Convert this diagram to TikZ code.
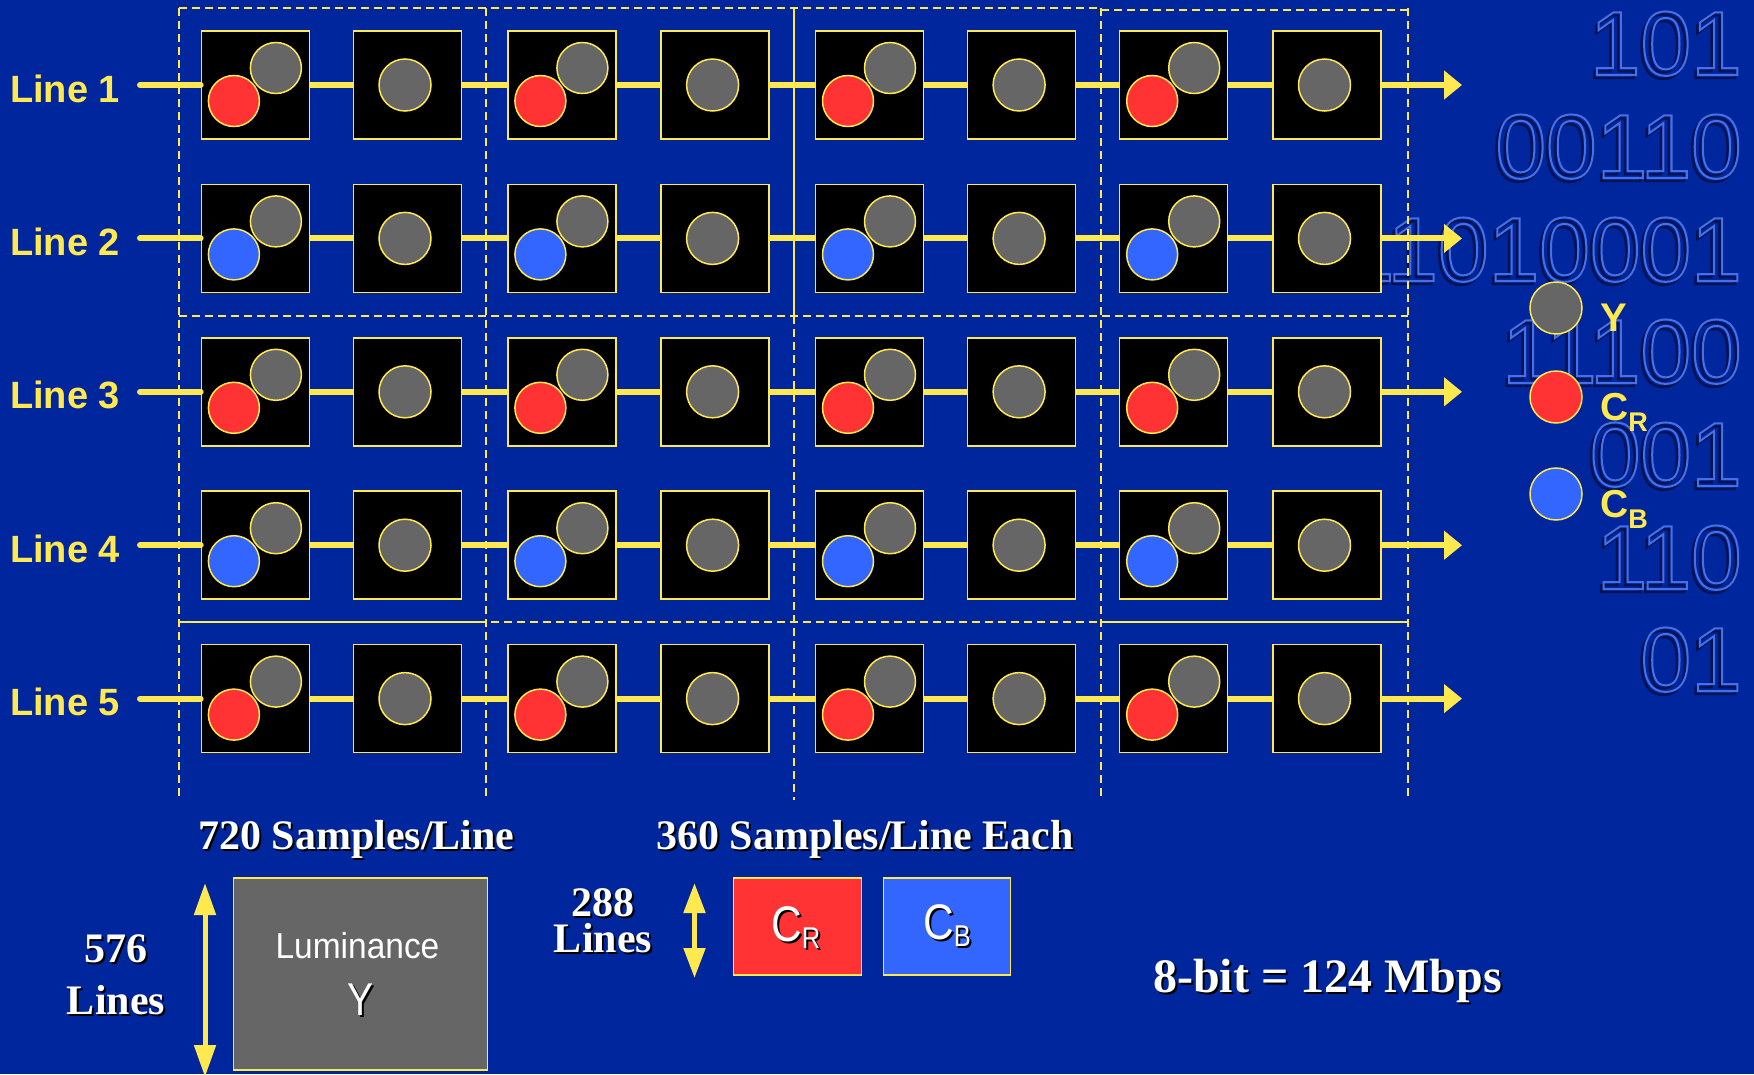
\documentclass[tikz,border=0pt]{standalone}
\usepackage{fontspec}
\setmainfont{Liberation Serif}
\setsansfont{Liberation Sans}
\newfontfamily\narrowsans[FakeStretch=0.85]{Liberation Sans}
\newfontfamily\lumfont[FakeStretch=0.93]{Liberation Sans}
\usetikzlibrary{arrows.meta}

\newcommand\outlinedtext[2]{\special{pdf:literal direct #1 w 1 Tr}#2\special{pdf:literal direct 0 Tr}}

\definecolor{bgblue}{HTML}{00269E}
\definecolor{ylw}{HTML}{FFE94F}
\definecolor{ygray}{HTML}{666666}
\definecolor{crred}{HTML}{FF3333}
\definecolor{cbblue}{HTML}{3366FF}
\definecolor{digline}{HTML}{4670E6}
\definecolor{digshadow}{HTML}{00124F}

\tikzset{
  samplebox/.style={draw=ylw, fill=black, line width=1.5pt, minimum width=108pt, minimum height=108pt, inner sep=0pt},
  ydot/.style={circle, draw=ylw, fill=ygray, line width=1.5pt, minimum size=51pt, inner sep=0pt},
  rdot/.style={ydot, fill=crred},
  bdot/.style={ydot, fill=cbblue},
  conn/.style={draw=ylw, line width=6pt},
  gridline/.style={draw=ylw, line width=1.6pt, dash pattern=on 8pt off 5pt},
  solidgrid/.style={draw=ylw, line width=1.3pt},
  linelabel/.style={text=ylw, font=\sffamily\bfseries\fontsize{38}{38}\selectfont, anchor=base west, inner sep=0pt},
  legtext/.style={text=ylw, font=\sffamily\bfseries\fontsize{39}{39}\selectfont, anchor=base west, inner sep=0pt},
  whitetxt/.style={text=white, font=\rmfamily\bfseries\fontsize{42}{42}\selectfont, inner sep=0pt},
  shadowtxt/.style={whitetxt, text=black},
  digits/.style={anchor=base east, inner sep=0pt, font=\sffamily\fontsize{91}{91}\selectfont, text=digline},
  dblarrow/.style={draw=ylw, line width=5pt, {Triangle[length=32pt,width=21pt]}-{Triangle[length=32pt,width=21pt]}},
  plainbox/.style={draw=ylw, line width=1.5pt, inner sep=0pt},
}

\begin{document}
\begin{tikzpicture}[x=1pt,y=-1pt]
\fill[bgblue] (0,0) rectangle (1754,1074);
\useasboundingbox (0,0) rectangle (1754,1074);

% background binary digits (outlined)
\foreach \n/\b/\t in {1/75/101, 2/178/00110, 3/281/11010001, 4/383/11100, 5/486/001, 6/589/110, 7/691/01}{
  \node[digits, text=digshadow] (dig\n s) at (1739.5,\b+3) {\outlinedtext{2.4}{\t}};
  \node[digits] (dig\n) at (1742,\b) {\outlinedtext{2.0}{\t}};
}

% dashed grid
\draw[gridline] (179,8) -- (1101,8);
\draw[gridline] (1101,10) -- (1408,10);
\draw[gridline] (179,316) -- (1408,316);
\draw[gridline] (179,622) -- (1408,622);
\foreach \xa in {179, 486, 1101, 1408}{
  \draw[gridline] (\xa,8) -- (\xa,800);
}
\draw[gridline] (794,316) -- (794,800);
\draw[solidgrid] (794,8) -- (794,316);
\draw[solidgrid] (179,622) -- (486,622);
\draw[solidgrid] (1101,622) -- (1408,622);

% sample rows
\foreach \r in {1,...,5}{
  \pgfmathsetmacro{\yc}{85+153.4*(\r-1)}
  \pgfmathtruncatemacro{\odd}{mod(\r,2)}
  \node[linelabel] (L\r) at (10,\yc+17) {Line \r};
  \coordinate (s\r) at (140,\yc);
  \coordinate (e\r) at (1462,\yc);
  \foreach \c/\xc in {1/255.4, 2/407.5, 3/561.9, 4/715.1, 5/869.5, 6/1021.6, 7/1173.7, 8/1327}{
    \node[samplebox] (b\r-\c) at (\xc,\yc) {};
    \pgfmathtruncatemacro{\codd}{mod(\c,2)}
    \ifnum\codd=1
      \node[ydot] (gy\r-\c) at (\xc+20.5,\yc-17) {};
      \ifnum\odd=1
        \node[rdot] (cc\r-\c) at (\xc-21.5,\yc+16) {};
      \else
        \node[bdot] (cc\r-\c) at (\xc-21.5,\yc+16) {};
      \fi
    \else
      \node[ydot, minimum size=52pt] (gy\r-\c) at (\xc-2.5,\yc) {};
    \fi
  }
  \draw[conn, line cap=round] (s\r) -- (b\r-1.west);
  \foreach \c in {1,...,7}{
    \pgfmathtruncatemacro{\nx}{\c+1}
    \draw[conn] (b\r-\c.east) -- (b\r-\nx.west);
  }
  \draw[conn, -{Triangle[length=18pt,width=28pt]}] (b\r-8.east) -- (e\r);
}

% legend
\node[ydot, minimum size=52pt] (legy) at (1556,308) {};
\node[rdot, minimum size=52pt] (legr) at (1556,397) {};
\node[bdot, minimum size=52pt] (legb) at (1556,494) {};
\node[legtext, font=\sffamily\bfseries\fontsize{40}{40}\selectfont] (legyt) at (1600,331) {Y};
\node[legtext] (legrt) at (1600,420) {C\raisebox{-11pt}{\fontsize{27}{27}\selectfont R}};
\node[legtext] (legbt) at (1600,517) {C\raisebox{-11pt}{\fontsize{27}{27}\selectfont B}};

% bottom captions
\node[shadowtxt, anchor=base west] (t720s) at (200,851) {720 Samples/Line};
\node[whitetxt, anchor=base west] (t720) at (198,849) {720 Samples/Line};
\node[shadowtxt, anchor=base west] (t360s) at (658,851) {360 Samples/Line Each};
\node[whitetxt, anchor=base west] (t360) at (656,849) {360 Samples/Line Each};

% luminance block
\node[plainbox, fill=ygray, minimum width=254pt, minimum height=192pt] (lum) at (360.5,974) {};
\node[anchor=base, inner sep=0pt, text=white, font=\lumfont\fontsize{36}{36}\selectfont] (lumt) at (357.5,958) {Luminance};
\node[anchor=base, inner sep=0pt, text=black, font=\narrowsans\fontsize{46}{46}\selectfont] (lumys) at (362.5,1017) {Y};
\node[anchor=base, inner sep=0pt, text=white, font=\narrowsans\fontsize{46}{46}\selectfont] (lumy) at (360.5,1015) {Y};

\coordinate (a576t) at (205,883);
\coordinate (a576b) at (205,1077);
\draw[dblarrow] (a576t) -- (a576b);
\node[shadowtxt, anchor=base] (n576s) at (118,964) {576};
\node[whitetxt, anchor=base] (n576) at (116,962) {576};
\node[shadowtxt, anchor=base] (l576s) at (118,1016) {Lines};
\node[whitetxt, anchor=base] (l576) at (116,1014) {Lines};

% chroma blocks
\coordinate (a288t) at (694.5,883);
\coordinate (a288b) at (694.5,978);
\draw[dblarrow, {Triangle[length=30pt,width=21pt]}-{Triangle[length=30pt,width=21pt]}] (a288t) -- (a288b);
\node[shadowtxt, anchor=base] (n288s) at (605,918) {288};
\node[whitetxt, anchor=base] (n288) at (603,916) {288};
\node[shadowtxt, anchor=base] (l288s) at (605,954) {Lines};
\node[whitetxt, anchor=base] (l288) at (603,952) {Lines};

\node[plainbox, fill=crred, minimum width=128pt, minimum height=97pt] (crbox) at (797.5,926.5) {};
\node[plainbox, fill=cbblue, minimum width=127pt, minimum height=97pt] (cbbox) at (947,926.5) {};
\node[anchor=base west, inner sep=0pt, text=black, font=\narrowsans\fontsize{50}{50}\selectfont] (crts) at (773,943.5) {C\raisebox{-7pt}{\fontsize{30}{30}\selectfont R}};
\node[anchor=base west, inner sep=0pt, text=white, font=\narrowsans\fontsize{50}{50}\selectfont] (crt) at (771,941.5) {C\raisebox{-7pt}{\fontsize{30}{30}\selectfont R}};
\node[anchor=base west, inner sep=0pt, text=black, font=\narrowsans\fontsize{50}{50}\selectfont] (cbts) at (925,941.5) {C\raisebox{-7pt}{\fontsize{30}{30}\selectfont B}};
\node[anchor=base west, inner sep=0pt, text=white, font=\narrowsans\fontsize{50}{50}\selectfont] (cbt) at (923,939.5) {C\raisebox{-7pt}{\fontsize{30}{30}\selectfont B}};

% bit rate
\node[shadowtxt, anchor=base west, font=\rmfamily\bfseries\fontsize{48}{48}\selectfont] (rates) at (1155,994) {8-bit = 124 Mbps};
\node[whitetxt, anchor=base west, font=\rmfamily\bfseries\fontsize{48}{48}\selectfont] (rate) at (1153,992) {8-bit = 124 Mbps};
\end{tikzpicture}
\end{document}
